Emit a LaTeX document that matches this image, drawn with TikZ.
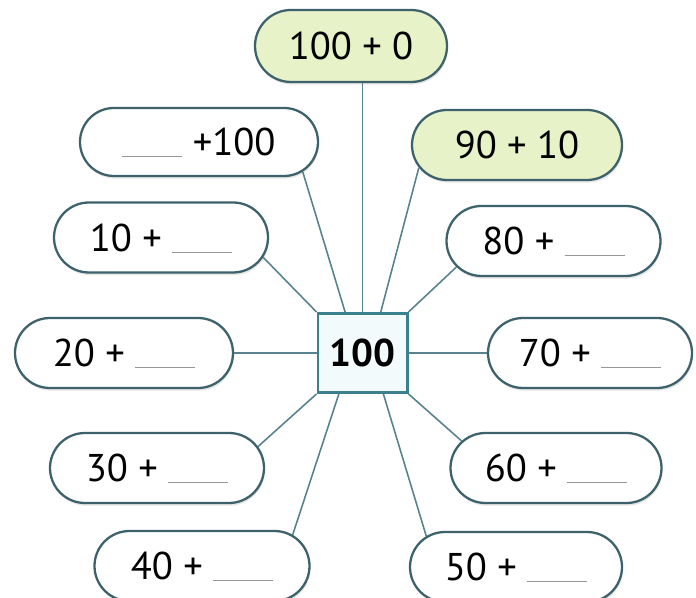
\documentclass[tikz,border=0pt]{standalone}
\usepackage{fontspec}
\setmainfont{PT Sans}
\usepackage{tikz}
\usetikzlibrary{calc, positioning, shapes.misc, shadows}
\definecolor{EdgeColour}{RGB}{62,98,108}
\definecolor{LinkColour}{RGB}{88,130,142}
\definecolor{paleGreen}{RGB}{232,242,200}
\definecolor{boxFill}{RGB}{243,250,252}
\definecolor{CentreEdge}{RGB}{58,128,142}
\definecolor{blankgrey}{RGB}{150,150,150}
\newcommand{\blank}{{\color{blankgrey}\rule[-1pt]{1.2cm}{0.6pt}}}

\begin{document}
\begin{tikzpicture}[
  font=\fontsize{22}{26}\selectfont,
  pill/.style={rounded rectangle, draw=EdgeColour, line width=1.3pt, fill=white,
    minimum width=4.28cm, minimum height=1.4cm, inner sep=0pt,
    text height=15.5pt, text depth=0pt,
    drop shadow={shadow xshift=0.5pt, shadow yshift=-1.5pt, opacity=0.2}},
  given/.style={pill, fill=paleGreen},
  centre/.style={draw=CentreEdge, line width=1.7pt, fill=boxFill,
    minimum width=1.78cm, minimum height=1.58cm, inner sep=0pt,
    text height=15.5pt, text depth=0pt},
  link/.style={draw=LinkColour, line width=0.9pt},
]
% Frame: 696 x 598 px at 50 px per cm
\useasboundingbox (0,0) rectangle (13.92,11.96);

% Centre number
\node[centre] (c) at (7.25,4.9) {\textbf{100}};

% Sums round it, top to bottom
\node[given, minimum width=3.84cm, minimum height=1.44cm] (top) at (7.02,11.04) {100 + 0};
\node[pill, minimum width=4.76cm, minimum height=1.36cm] (b100) at (3.98,9.12) {\blank\ +100};
\node[given, minimum width=4.2cm] (b90) at (10.34,9.06) {90 + 10};
\node[pill] (b10) at (3.22,7.21) {10 + \blank};
\node[pill] (b80) at (11.07,7.14) {80 + \blank};
\node[pill, minimum width=4.36cm] (b20) at (2.48,4.9) {20 + \blank};
\node[pill, minimum width=4.08cm] (b70) at (11.8,4.9) {70 + \blank};
\node[pill] (b30) at (3.14,2.6) {30 + \blank};
\node[pill, minimum width=4.22cm] (b60) at (11.12,2.6) {60 + \blank};
\node[pill, minimum width=4.3cm] (b40) at (4.04,0.64) {40 + \blank};
\node[pill, minimum width=4.24cm] (b50) at (10.32,0.62) {50 + \blank};

% Spokes
\draw[link] (c.north) -- (c.north |- top.south);
\draw[link] (c.113) -- (b100.-16);
\draw[link] (c.66) -- (b90.-167);
\draw[link] (c.north west) -- (b10.-11);
\draw[link] (c.north east) -- (b80.-165);
\draw[link] (c.west) -- (b20.east);
\draw[link] (c.east) -- (b70.west);
\draw[link] (c.south west) -- (b30.12);
\draw[link] (c.-120) -- (b40.19);
\draw[link] (c.-63) -- (b50.161);
\draw[link] (c.south east) -- (b60.164);

\end{tikzpicture}
\end{document}
